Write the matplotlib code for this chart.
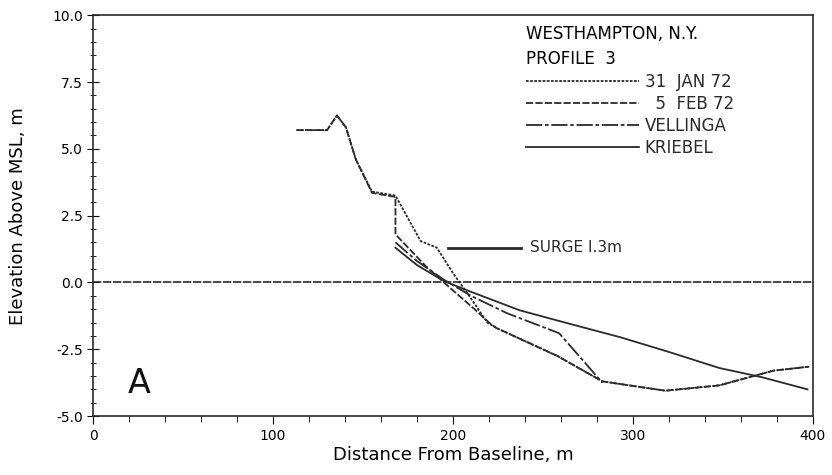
import matplotlib
matplotlib.use("Agg")
from matplotlib import pyplot as plt
from matplotlib.ticker import MultipleLocator, FormatStrFormatter

# profile data (distance m, elevation m)
jan_x = [113, 130, 135.5, 140.5, 146, 155, 168, 182, 191, 200, 210, 219, 224, 258, 283, 318, 348, 378, 398]
jan_y = [5.7, 5.7, 6.25, 5.8, 4.6, 3.4, 3.25, 1.55, 1.3, 0.35, -0.6, -1.5, -1.7, -2.75, -3.7, -4.05, -3.85, -3.3, -3.15]

feb_x = [113, 130, 135.5, 140.5, 146, 155, 168, 168, 185, 200, 212, 220, 224, 258, 283, 318, 348, 378, 398]
feb_y = [5.7, 5.7, 6.25, 5.8, 4.6, 3.35, 3.2, 1.8, 0.6, -0.3, -1.0, -1.5, -1.7, -2.75, -3.7, -4.05, -3.85, -3.3, -3.15]

vel_x = [168, 180, 195, 210, 230, 259, 283]
vel_y = [1.5, 0.8, 0.1, -0.5, -1.15, -1.9, -3.75]

krb_x = [168, 180, 195, 210, 237, 265, 293, 320, 348, 372, 397]
krb_y = [1.3, 0.65, 0.05, -0.35, -1.04, -1.55, -2.05, -2.6, -3.2, -3.55, -4.0]

surge_x = [197, 238]
surge_y = [1.3, 1.3]

labels = ["31  JAN 72", "  5  FEB 72", "VELLINGA", "KRIEBEL"]

ink = "#2a2a2a"
fig = plt.figure(figsize=(8.32, 4.75), dpi=100)
ax = fig.add_axes([0.112, 0.124, 0.865, 0.844])

ax.axhline(0, color=ink, lw=1.2, ls=(0, (5, 1)))
ax.plot(jan_x, jan_y, color=ink, lw=1.3, ls=(0, (1.5, 0.8)), label=labels[0])
ax.plot(feb_x, feb_y, color=ink, lw=1.3, ls=(0, (4, 1.2)), label=labels[1])
ax.plot(vel_x, vel_y, color=ink, lw=1.3, ls=(0, (9, 1.5, 2, 1.5)), label=labels[2])
ax.plot(krb_x, krb_y, color=ink, lw=1.3, label=labels[3])
ax.plot(surge_x, surge_y, color=ink, lw=2.0)
ax.text(243, 1.3, "SURGE I.3m", fontsize=11, va="center", color=ink)

ax.text(19, -4.15, "A", fontsize=24, color="#111")

leg = ax.legend(loc="upper left", bbox_to_anchor=(0.58, 1.012), frameon=False,
                title="WESTHAMPTON, N.Y.\nPROFILE  3", alignment="left",
                handlelength=6.8, handletextpad=0.35, labelspacing=0.25,
                prop={"size": 12})
leg.get_title().set_fontsize(12)
leg.get_title().set_linespacing(1.5)
for t in leg.get_texts():
    t.set_color(ink)

ax.set_xlim(0, 400)
ax.set_ylim(-5, 10)
ax.xaxis.set_major_locator(MultipleLocator(100))
ax.xaxis.set_minor_locator(MultipleLocator(20))
ax.yaxis.set_major_locator(MultipleLocator(2.5))
ax.yaxis.set_minor_locator(MultipleLocator(0.5))
ax.yaxis.set_major_formatter(FormatStrFormatter("%.1f"))
ax.tick_params(axis="y", which="both", direction="inout", labelsize=10)
ax.tick_params(axis="y", which="major", length=8)
ax.tick_params(axis="y", which="minor", length=5)
ax.tick_params(axis="x", which="major", length=6, labelsize=10)
ax.tick_params(axis="x", which="minor", length=4)
for s in ax.spines.values():
    s.set_color(ink)
    s.set_linewidth(1.2)

ax.set_xlabel("Distance From Baseline, m", fontsize=13, labelpad=2)
ax.set_ylabel("Elevation Above MSL, m", fontsize=13, labelpad=18)

plt.savefig("out.png")
